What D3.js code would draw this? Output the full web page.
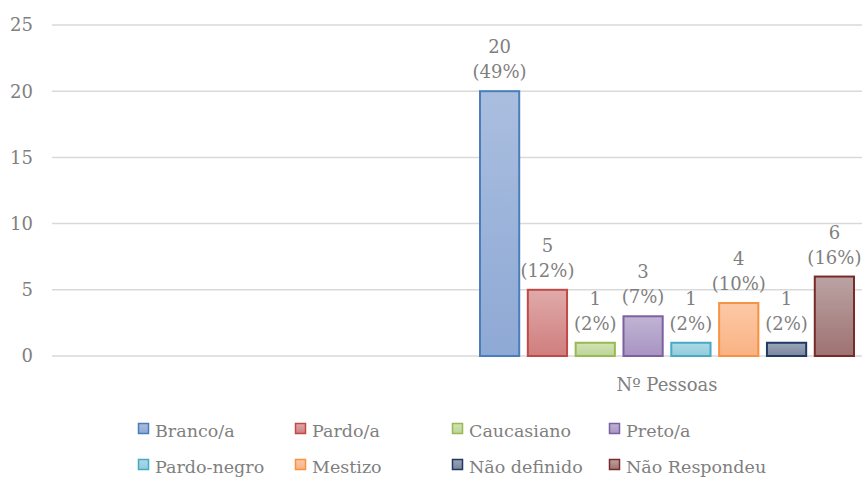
<!DOCTYPE html>
<html>
<head>
<meta charset="utf-8">
<script src="https://cdn.jsdelivr.net/npm/d3@7"></script>
<style>
  body { margin: 0; background: #fff; }
  svg { font-family: "DejaVu Serif", serif; }
</style>
</head>
<body>
<svg id="chart" width="862" height="478"></svg>
<script>
// ---- data
var categories = ["", "Nº Pessoas"];
var series = ["Branco/a", "Pardo/a", "Caucasiano", "Preto/a", "Pardo-negro", "Mestizo", "Não definido", "Não Respondeu"];
var values = [20, 5, 1, 3, 1, 4, 1, 6];
var percents = ["49%", "12%", "2%", "7%", "2%", "10%", "2%", "16%"];
var yTicks = [0, 5, 10, 15, 20, 25];

var strokes = ["#4a7ebb", "#be4b48", "#98b954", "#7d60a0", "#46aac5", "#f69240", "#1f3b63", "#772c2a"];
var fillTop = ["#aabedf", "#dfaaa9", "#d2e3b5", "#c0b4d3", "#aed9e7", "#fdc9a8", "#9ca5b8", "#bba3a3"];
var fillBottom = ["#8ea9d5", "#cf7e7d", "#bbd497", "#a894c3", "#91ccdc", "#f9b282", "#7a869e", "#9e7272"];

var svg = d3.select("#chart"),
  margin = { top: 25, left: 52 },
  plotBottom = 356,
  plotRight = 872;

var y = d3.scaleLinear().domain([0, 25]).range([plotBottom, margin.top]);
var x0 = d3.scaleBand().domain(categories).range([margin.left, plotRight]);
var inset = 18;
var x1 = d3.scaleBand().domain(series).range([inset, x0.bandwidth() - inset]).paddingInner(0.18);

// gradients
var defs = svg.append("defs");
series.forEach(function (s, i) {
  var g = defs.append("linearGradient").attr("id", "grad" + i)
    .attr("x1", 0).attr("y1", 0).attr("x2", 0).attr("y2", 1);
  g.append("stop").attr("offset", "0%").attr("stop-color", fillTop[i]);
  g.append("stop").attr("offset", "100%").attr("stop-color", fillBottom[i]);
});

// gridlines
svg.selectAll(".grid").data(yTicks).join("line").attr("class", "grid")
  .attr("x1", margin.left).attr("x2", 862)
  .attr("y1", d => y(d)).attr("y2", d => y(d))
  .attr("stroke", "#d9d9d9").attr("stroke-width", 1.5);

// y tick labels
svg.selectAll(".ylab").data(yTicks).join("text").attr("class", "ylab")
  .attr("x", 33).attr("y", d => y(d)).attr("dy", "0.36em")
  .attr("text-anchor", "end").attr("fill", "#7f7f7f").style("font-size", "18px")
  .text(d => d);

// bars
var gx = x0("Nº Pessoas");
svg.selectAll(".bar").data(values).join("rect").attr("class", "bar")
  .attr("x", (d, i) => gx + x1(series[i]))
  .attr("y", d => y(d))
  .attr("width", x1.bandwidth())
  .attr("height", d => y(0) - y(d))
  .attr("fill", (d, i) => "url(#grad" + i + ")")
  .attr("stroke", (d, i) => strokes[i])
  .attr("stroke-width", 2);

// data labels
var lab = svg.selectAll(".dlab").data(values).join("text").attr("class", "dlab")
  .attr("text-anchor", "middle").attr("fill", "#7f7f7f").style("font-size", "18px");
lab.append("tspan")
  .attr("x", (d, i) => gx + x1(series[i]) + x1.bandwidth() / 2)
  .attr("y", d => y(d) - 38)
  .text(d => d);
lab.append("tspan")
  .attr("x", (d, i) => gx + x1(series[i]) + x1.bandwidth() / 2)
  .attr("y", d => y(d) - 13)
  .text((d, i) => "(" + percents[i] + ")");

// category label
svg.append("text")
  .attr("x", gx + x0.bandwidth() / 2).attr("y", 391)
  .attr("text-anchor", "middle").attr("fill", "#7f7f7f").style("font-size", "18px")
  .text("Nº Pessoas");

// legend
var legend = svg.selectAll(".leg").data(series).join("g").attr("class", "leg")
  .attr("transform", (d, i) => "translate(" + (138 + (i % 4) * 157) + "," + (i < 4 ? 423 : 459) + ")");
legend.append("rect")
  .attr("x", 0.5).attr("y", 0.5).attr("width", 10).attr("height", 10)
  .attr("fill", (d, i) => "url(#grad" + i + ")")
  .attr("stroke", (d, i) => strokes[i]).attr("stroke-width", 1.5);
legend.append("text")
  .attr("x", 17).attr("y", 14)
  .attr("fill", "#7f7f7f").style("font-size", "17.5px")
  .text(d => d);
</script>
</body>
</html>
